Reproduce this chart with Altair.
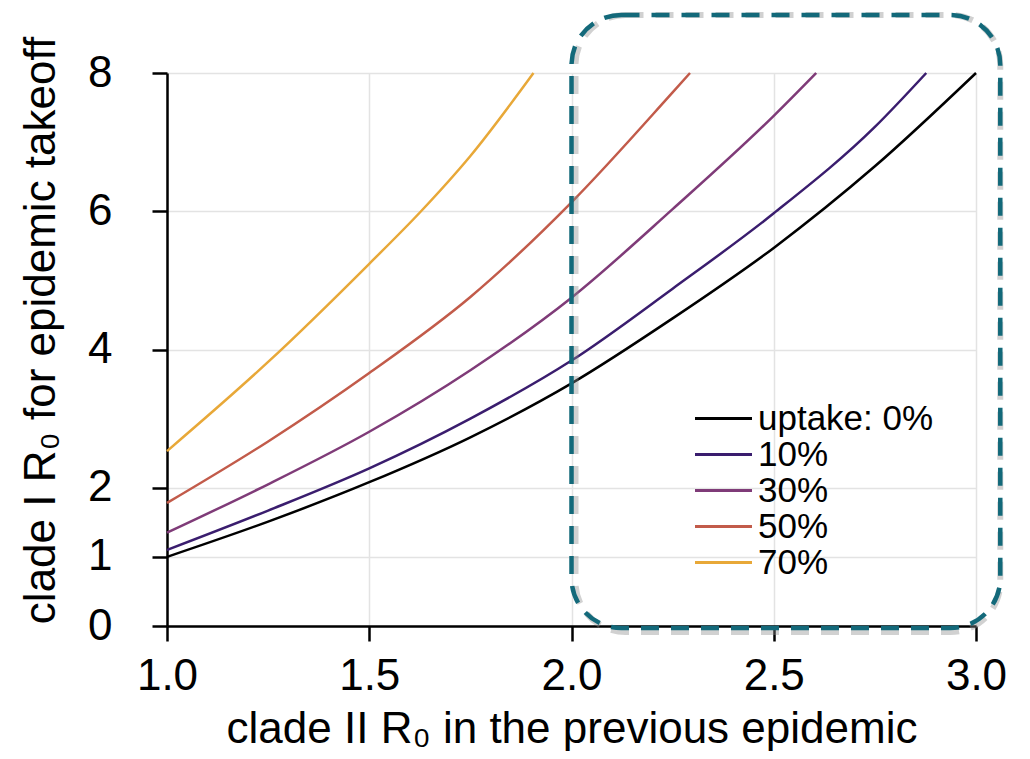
import altair as alt
import pandas as pd

# clade II R0 (x) and clade I R0 threshold (y), per uptake level
x_u0 = [1.0, 1.25, 1.5, 1.75, 2.0, 2.25, 2.5, 2.75, 3.0]
y_u0 = [1.0, 1.51, 2.08, 2.73, 3.51, 4.45, 5.47, 6.65, 8.0]

x_u10 = [1.0, 1.25, 1.5, 1.75, 2.0, 2.25, 2.5, 2.75, 2.877]
y_u10 = [1.10, 1.67, 2.28, 3.0, 3.84, 4.88, 5.97, 7.22, 8.0]

x_u30 = [1.0, 1.25, 1.5, 1.75, 2.0, 2.25, 2.5, 2.605]
y_u30 = [1.35, 2.05, 2.81, 3.70, 4.75, 6.03, 7.38, 8.0]

x_u50 = [1.0, 1.25, 1.5, 1.75, 2.0, 2.25, 2.293]
y_u50 = [1.78, 2.67, 3.66, 4.76, 6.13, 7.72, 8.0]

x_u70 = [1.0, 1.25, 1.5, 1.628, 1.75, 1.906]
y_u70 = [2.53, 3.82, 5.24, 6.0, 6.8, 8.0]

series_labels = ["uptake: 0%", "10%", "30%", "50%", "70%"]
series_colors = ["#000000", "#3a1d6e", "#7f3b78", "#c25b4a", "#e8a838"]

x_ticks = [1.0, 1.5, 2.0, 2.5, 3.0]
y_ticks = [0, 1, 2, 4, 6, 8]

# highlighted region (dashed rounded box), in data units
box_x = [2.0, 3.06]
box_y = [-0.03, 8.84]

FONT = "Liberation Sans"

rows = []
for lab, xs, ys in zip(series_labels, [x_u0, x_u10, x_u30, x_u50, x_u70],
                       [y_u0, y_u10, y_u30, y_u50, y_u70]):
    for xv, yv in zip(xs, ys):
        rows.append({"R2": xv, "R1": yv, "uptake": lab})
df = pd.DataFrame(rows)

box_df = pd.DataFrame({"x": [box_x[0]], "x2": [box_x[1]], "y": [box_y[0]], "y2": [box_y[1]]})

x_scale = alt.Scale(domain=[1, 3], nice=False, zero=False)
y_scale = alt.Scale(domain=[0, 8], nice=False)

x_axis = alt.Axis(
    values=x_ticks, format=".1f", title="clade II R₀ in the previous epidemic",
    labelFontSize=44, titleFontSize=44, labelFont=FONT, titleFont=FONT,
    labelColor="black", titleColor="black", titleFontWeight="normal",
    domainColor="black", domainWidth=2.5, tickColor="black", tickWidth=2.5,
    tickSize=15, labelPadding=13, gridColor="#e3e3e3", gridWidth=1.5,
    titleY=116, titleBaseline="alphabetic", labelFlush=False,
)
y_axis = alt.Axis(
    values=y_ticks, format="d", title="clade I R₀ for epidemic takeoff",
    labelFontSize=44, titleFontSize=44, labelFont=FONT, titleFont=FONT,
    labelColor="black", titleColor="black", titleFontWeight="normal",
    domainColor="black", domainWidth=2.5, tickColor="black", tickWidth=2.5,
    tickSize=15, labelPadding=40, gridColor="#e3e3e3", gridWidth=1.5,
    titleX=-113, titleY=257, titleAngle=270, titleBaseline="alphabetic",
    titleAlign="center", labelFlush=False,
)

lines = alt.Chart(df).mark_line(strokeWidth=2.5, interpolate="monotone").encode(
    x=alt.X("R2:Q", scale=x_scale, axis=x_axis),
    y=alt.Y("R1:Q", scale=y_scale, axis=y_axis),
    color=alt.Color(
        "uptake:N",
        scale=alt.Scale(domain=series_labels, range=series_colors),
        sort=series_labels,
        legend=alt.Legend(
            title=None, orient="none", legendX=539, legendY=328,
            symbolType="M-2,0H2", symbolSize=812, symbolStrokeWidth=3,
            labelFontSize=35, labelFont=FONT, labelColor="black",
            labelOffset=17, rowPadding=0, padding=0, labelLimit=400,
        ),
    ),
    order=alt.Order("uptake:N"),
)

shadow = alt.Chart(box_df).mark_rect(
    filled=False, stroke="#8c8c8c", strokeWidth=6, strokeDash=[18, 12],
    cornerRadius=50, opacity=0.4, xOffset=4, yOffset=4, clip=False,
).encode(
    x=alt.X("x:Q", scale=x_scale, axis=x_axis), x2="x2",
    y=alt.Y("y:Q", scale=y_scale, axis=y_axis), y2="y2",
)

box = alt.Chart(box_df).mark_rect(
    filled=False, stroke="#13697a", strokeWidth=4.5, strokeDash=[18, 12],
    cornerRadius=50, clip=False,
).encode(
    x=alt.X("x:Q", scale=x_scale, axis=x_axis), x2="x2",
    y=alt.Y("y:Q", scale=y_scale, axis=y_axis), y2="y2",
)

chart = alt.layer(lines, shadow, box).properties(
    width=809, height=553,
    autosize=alt.AutoSizeParams(type="none"),
    padding={"left": 159, "top": 65, "right": 46, "bottom": 125},
).configure_view(stroke=None).configure(background="white")

chart.save("out.html", embed_options={"renderer": "svg", "actions": False})
